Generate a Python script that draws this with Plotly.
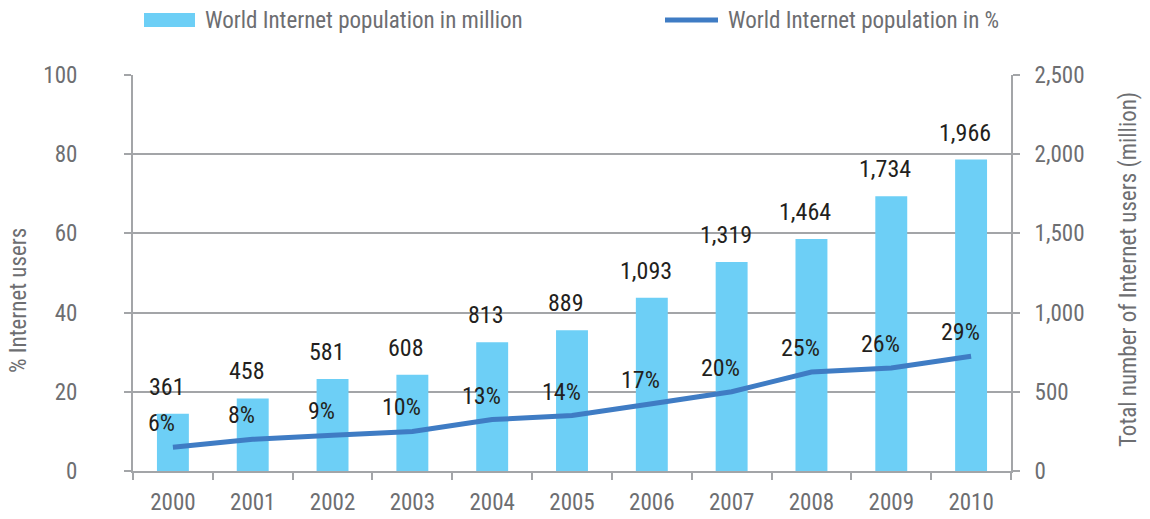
import plotly.graph_objects as go

# Chart data
years = ["2000", "2001", "2002", "2003", "2004", "2005",
         "2006", "2007", "2008", "2009", "2010"]
users_million = [361, 458, 581, 608, 813, 889, 1093, 1319, 1464, 1734, 1966]
users_percent = [6, 8, 9, 10, 13, 14, 17, 20, 25, 26, 29]

pct_ticks = [0, 20, 40, 60, 80, 100]
million_ticks = [0, 500, 1000, 1500, 2000, 2500]

BAR = "#6dcff6"
LINE = "#3f7cc4"
AXIS = "#a3a5a8"
TICKTXT = "#6d6e71"
LABEL = "#231f20"
FONT = "Roboto Condensed, Liberation Sans Narrow, Roboto, sans-serif"

W, H = 1150, 519
ML, MR, MT, MB = 133, 139, 75, 48
PW, PH = W - ML - MR, H - MT - MB


def px_x(x):
    return (x - ML) / PW


def px_y(y):
    return (H - MB - y) / PH


fig = go.Figure()

fig.add_trace(go.Bar(
    x=years, y=users_million, yaxis="y",
    marker=dict(color=BAR, line=dict(width=0)),
    width=0.4, name="World Internet population in million",
    showlegend=False,
))

fig.add_trace(go.Scatter(
    x=years, y=users_percent, yaxis="y2", mode="lines",
    line=dict(color=LINE, width=5),
    name="World Internet population in %",
    showlegend=False,
))

annotations = []
# value labels: category axes are addressed by index
for i, v in enumerate(users_million):
    annotations.append(dict(
        x=i, y=v, xref="x", yref="y", text=f"{v:,}", showarrow=False,
        yanchor="middle", yshift=27, xshift=-6,
        font=dict(family=FONT, size=24, color=LABEL),
    ))
for i, p in enumerate(users_percent):
    annotations.append(dict(
        x=i, y=p, xref="x", yref="y2", text=f"{p}%", showarrow=False,
        yanchor="middle", yshift=24, xshift=-11,
        font=dict(family=FONT, size=24, color=LABEL),
    ))

# axis titles
annotations.append(dict(
    xref="paper", yref="paper", x=px_x(18), y=px_y(301),
    xanchor="center", yanchor="middle",
    text="% Internet users", textangle=-90, showarrow=False,
    font=dict(family=FONT, size=23, color=TICKTXT),
))
annotations.append(dict(
    xref="paper", yref="paper", x=px_x(1128), y=px_y(270),
    xanchor="center", yanchor="middle",
    text="Total number of Internet users (million)", textangle=-90,
    showarrow=False, font=dict(family=FONT, size=23, color=TICKTXT),
))

# legend
annotations.append(dict(
    xref="paper", yref="paper", x=px_x(203), y=px_y(20.5),
    xanchor="left", yanchor="middle", showarrow=False,
    text="World Internet population in million",
    font=dict(family=FONT, size=23, color=TICKTXT),
))
annotations.append(dict(
    xref="paper", yref="paper", x=px_x(726), y=px_y(20.5),
    xanchor="left", yanchor="middle", showarrow=False,
    text="World Internet population in %",
    font=dict(family=FONT, size=23, color=TICKTXT),
))
shapes = [
    dict(type="rect", xref="paper", yref="paper",
         x0=px_x(144), x1=px_x(195), y0=px_y(27), y1=px_y(13),
         fillcolor=BAR, line=dict(width=0)),
    dict(type="line", xref="paper", yref="paper",
         x0=px_x(665), x1=px_x(718), y0=px_y(20), y1=px_y(20),
         line=dict(color=LINE, width=5)),
]

fig.update_layout(
    width=W, height=H,
    margin=dict(l=ML, r=MR, t=MT, b=MB, autoexpand=False),
    paper_bgcolor="white", plot_bgcolor="white",
    font=dict(family=FONT, size=23, color=TICKTXT),
    xaxis=dict(
        type="category", range=[-0.5, 10.5],
        showline=True, linecolor=AXIS, linewidth=2,
        ticks="outside", tickson="boundaries", ticklen=7,
        tickcolor=AXIS, tickwidth=2, showgrid=False,
        tickfont=dict(family=FONT, size=23, color=TICKTXT),
        ticklabelstandoff=9,
    ),
    yaxis=dict(
        side="right", range=[0, 2500], tickvals=million_ticks,
        tickformat=",", showline=True, linecolor=AXIS, linewidth=2,
        ticks="outside", ticklen=7, tickcolor=AXIS, tickwidth=2,
        showgrid=True, gridcolor=AXIS, gridwidth=2, zeroline=False,
        tickfont=dict(family=FONT, size=23, color=TICKTXT),
        ticklabelstandoff=10,
    ),
    yaxis2=dict(
        side="left", overlaying="y", range=[0, 100], tickvals=pct_ticks,
        showline=True, linecolor=AXIS, linewidth=2,
        ticks="outside", ticklen=7, tickcolor=AXIS, tickwidth=2,
        showgrid=False, zeroline=False,
        tickfont=dict(family=FONT, size=23, color=TICKTXT),
        ticklabelstandoff=42,
    ),
    annotations=annotations,
    shapes=shapes,
    showlegend=False,
)

fig.write_html("out.html")
